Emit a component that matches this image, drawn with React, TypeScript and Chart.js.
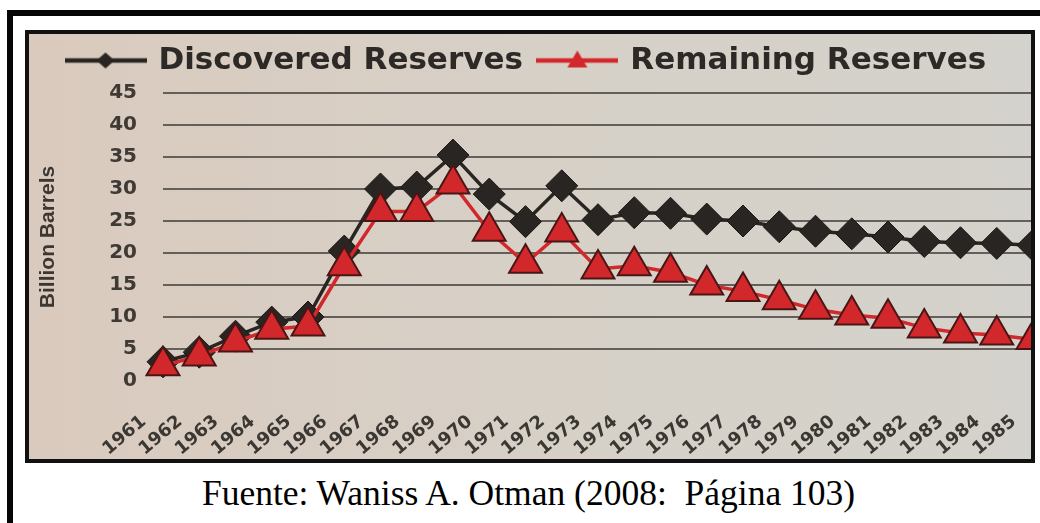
import React, { useEffect, useRef } from 'react';
import { Chart, registerables } from 'chart.js';

Chart.register(...registerables);

const years = ['1961','1962','1963','1964','1965','1966','1967','1968','1969','1970','1971','1972','1973','1974','1975','1976','1977','1978','1979','1980','1981','1982','1983','1984','1985'];
const discovered = [3, 4.5, 7, 9.2, 10, 20.3, 30, 30.3, 35.3, 29.2, 24.9, 30.5, 25.2, 26.3, 26.2, 25.3, 25, 24.1, 23.4, 23, 22.5, 21.8, 21.6, 21.5, 21.2];
const remaining = [2.4, 3.9, 6.1, 8.1, 8.6, 18, 26.5, 26.5, 30.8, 23.4, 18.4, 23.3, 17.5, 18, 17, 15, 14, 12.7, 11.2, 10.3, 9.8, 8.3, 7.5, 7.2, 6.5];
const seriesNames = ['Discovered Reserves', 'Remaining Reserves'];
const yMin = 0;
const yMax = 45;
const yStep = 5;
const yTitle = 'Billion Barrels';
const caption = 'Fuente: Waniss A. Otman (2008:  Página 103)';

const BLACK = '#292522';
const RED = '#d3282b';

function legendIcon(kind: 'diamond' | 'triangle', color: string) {
  const c = document.createElement('canvas');
  c.width = 82;
  c.height = 24;
  const ctx = c.getContext('2d')!;
  ctx.strokeStyle = color;
  ctx.lineWidth = 4.5;
  ctx.beginPath();
  ctx.moveTo(0, 12);
  ctx.lineTo(82, 12);
  ctx.stroke();
  ctx.fillStyle = color;
  ctx.beginPath();
  if (kind === 'diamond') {
    ctx.moveTo(32, 12);
    ctx.lineTo(41, 4);
    ctx.lineTo(50, 12);
    ctx.lineTo(41, 20);
  } else {
    ctx.moveTo(41, 2);
    ctx.lineTo(51, 19);
    ctx.lineTo(31, 19);
  }
  ctx.closePath();
  ctx.fill();
  return c;
}

export default function App() {
  const ref = useRef<HTMLCanvasElement | null>(null);

  useEffect(() => {
    if (!ref.current) return;
    const icons = [legendIcon('diamond', BLACK), legendIcon('triangle', RED)];
    const chart = new Chart(ref.current, {
      type: 'line',
      data: {
        labels: years,
        datasets: [
          {
            label: seriesNames[0],
            data: discovered,
            borderColor: BLACK,
            backgroundColor: BLACK,
            borderWidth: 3.5,
            pointStyle: 'rectRot',
            pointRadius: 16,
            pointBackgroundColor: BLACK,
            pointBorderColor: '#1a1816',
            pointBorderWidth: 1,
            tension: 0,
            clip: false,
            order: 2,
          },
          {
            label: seriesNames[1],
            data: remaining,
            borderColor: RED,
            backgroundColor: RED,
            borderWidth: 3.5,
            pointStyle: 'triangle',
            pointRadius: 19,
            pointBackgroundColor: RED,
            pointBorderColor: '#4a1515',
            pointBorderWidth: 2,
            tension: 0,
            clip: false,
            order: 1,
          },
        ],
      },
      options: {
        animation: false,
        responsive: false,
        maintainAspectRatio: false,
        layout: { padding: { left: 22, right: 18, top: 0, bottom: 0 } },
        plugins: {
          tooltip: { enabled: false },
          title: {
            display: true,
            text: '',
            weight: 500,
            font: { size: 1, lineHeight: 1 },
            padding: { top: 0, bottom: 6 },
          },
          legend: {
            display: true,
            position: 'top',
            align: 'start',
            labels: {
              usePointStyle: true,
              pointStyleWidth: 75,
              padding: 17,
              color: '#2d2926',
              font: { family: 'DejaVu Sans', weight: 'bold', size: 31 },
              sort: (a: any, b: any) => a.datasetIndex - b.datasetIndex,
              generateLabels: (ch: any) => {
                const items = Chart.defaults.plugins.legend.labels.generateLabels(ch);
                return items.map((it: any) => ({ ...it, pointStyle: icons[it.datasetIndex] }));
              },
            },
          },
        },
        scales: {
          x: {
            type: 'category',
            offset: false,
            grid: { display: false, drawTicks: false },
            border: { display: false },
            ticks: {
              autoSkip: false,
              maxRotation: 40,
              minRotation: 40,
              padding: 14,
              color: '#3b3733',
              font: { family: 'DejaVu Sans', weight: 'bold', size: 18 },
              callback: (_v: any, i: number) => years[i] + '    ',
            },
            afterFit: (s: any) => {
              s.height = 78;
              s.paddingLeft = 0;
              s.paddingRight = 0;
            },
          },
          y: {
            min: yMin,
            max: yMax,
            grid: {
              drawTicks: false,
              lineWidth: 2,
              color: (c: any) => (c.tick && c.tick.value === 0 ? 'rgba(0,0,0,0)' : 'rgba(80,75,70,0.85)'),
            },
            border: { display: false },
            ticks: {
              stepSize: yStep,
              padding: 26,
              color: '#3e3a36',
              font: { family: 'DejaVu Sans', weight: 'bold', size: 20 },
            },
            title: {
              display: true,
              text: yTitle,
              color: '#3c3733',
              font: { family: 'Liberation Sans', weight: 'bold', size: 21, lineHeight: 1 },
              padding: { top: -13, bottom: 0 },
            },
            afterFit: (s: any) => {
              s.width = 112;
            },
          },
        },
      },
    });
    return () => chart.destroy();
  }, []);

  return (
    <div style={{ position: 'absolute', left: 0, top: 0, width: 1040, height: 523, overflow: 'hidden', background: '#fff' }}>
      <div style={{ position: 'absolute', left: 7, top: 10, width: 1080, height: 560, border: '6px solid #050505', boxSizing: 'border-box' }} />
      <div
        style={{
          position: 'absolute',
          left: 29,
          top: 34,
          width: 1002,
          height: 425,
          overflow: 'hidden',
          background: 'linear-gradient(90deg, #dacabd 0%, #d8cec4 30%, #d6d1c8 60%, #d4d2cc 100%)',
        }}
      >
        <canvas ref={ref} width={1025} height={431} style={{ position: 'absolute', left: 0, top: -6, width: 1025, height: 431 }} />
      </div>
      <div style={{ position: 'absolute', left: 25, top: 30, width: 1010, height: 433, border: '4px solid #111', boxSizing: 'border-box', pointerEvents: 'none' }} />
      <div
        style={{
          position: 'absolute',
          left: 0,
          top: 476,
          width: 1057,
          textAlign: 'center',
          fontFamily: '"Liberation Serif", "Times New Roman", serif',
          fontSize: 35.5,
          lineHeight: '35px',
          whiteSpace: 'pre',
          color: '#000',
        }}
      >
        {caption}
      </div>
    </div>
  );
}
